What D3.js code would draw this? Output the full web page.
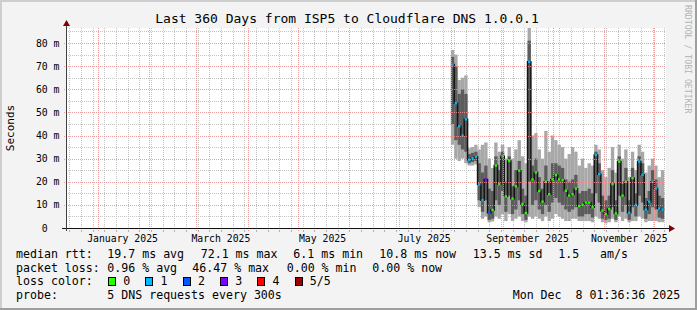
<!DOCTYPE html>
<html>
<head>
<meta charset="utf-8">
<script src="https://cdn.jsdelivr.net/npm/d3@7"></script>
<style>
  body { margin: 0; background: #f3f3f3; }
  svg { display: block; }
  text { font-family: "DejaVu Sans Mono", monospace; fill: #000; }
</style>
</head>
<body>
<div id="chart"></div>
<script>
// ---- data (2-day bins, values in ms) ----
const binDates = [
  "2025-08-01","2025-08-03","2025-08-05","2025-08-07","2025-08-09","2025-08-11","2025-08-13","2025-08-15",
  "2025-08-17","2025-08-19","2025-08-21","2025-08-23","2025-08-25","2025-08-27","2025-08-29","2025-08-31",
  "2025-09-02","2025-09-04","2025-09-06","2025-09-08","2025-09-10","2025-09-12","2025-09-14","2025-09-16",
  "2025-09-18","2025-09-20","2025-09-22","2025-09-24","2025-09-26","2025-09-28","2025-09-30","2025-10-02",
  "2025-10-04","2025-10-06","2025-10-08","2025-10-10","2025-10-12","2025-10-14","2025-10-16","2025-10-18",
  "2025-10-20","2025-10-22","2025-10-24","2025-10-26","2025-10-28","2025-10-30","2025-11-01","2025-11-03",
  "2025-11-05","2025-11-07","2025-11-09","2025-11-11","2025-11-13","2025-11-15","2025-11-17","2025-11-19",
  "2025-11-21","2025-11-23","2025-11-25","2025-11-27","2025-11-29","2025-12-01","2025-12-03","2025-12-05"
];
const rttMedian = [
  70.7,54,44,40,47, 29.5,30.2,30.8,18.9,12, 21,6.6,7.8,27,19, 31,13.7,29,12.7,18,
  24.8,10.4,6.5,71.9,21, 24,16,11.4,20,14.6, 21,22.9,21,20.7,16.1, 14,14.6,17,9.5,10,
  11,11,9,31.6,23.3, 7.5,6,8.2,19,6.3, 28.7,14,20,6.6,21.6, 10,28.7,23,8,11.4, 20,17.1,8.5,8
];
const rttHigh = [
  77,75,64,65,66, 34.5,35,36,34,36, 37,30,26,37,33, 36,30,35,30,34,
  38,31,28,95,40, 41,34,30,42,33, 40,38,36,35,30, 32,35,33,27,30,
  26,28,27,36,34, 25,22,26,35,24, 36,30,34,22,33, 25,36,33,24,27, 30,27,22,25
];
const rttUpper = [
  74,70,58,60,58, 32,32.5,33,28,24, 27,17,16,31,25, 33,20,31,18,25,
  29,17,14,81,27, 30,22,17,27,20, 28,28,27,26,21, 20,21,23,15,16,
  16,17,15,33,28, 14,12,14,25,12, 31,19,26,12,26, 15,31,28,13,16, 25,21,14,13
];
const rttLower = [
  45,38,36,34,33, 28,28.5,29,12,7, 12,3.5,4,12,10, 16,7,14,6,8,
  12,6,3.5,20,10, 12,8,6,10,7, 11,13,11,10,8, 7,8,9,5,5,
  6,6,4.5,15,11, 4,3.5,4,9,3.5, 14,7,10,3.5,9, 5,14,11,4,6, 9,8,4.5,4
];
const rttLow = [
  36,30,29,30,28, 27,27,27.5,9,4, 5,2.5,2.8,5,4, 6,3,6,3,4,
  5,3,2.5,5,4, 5,4,3,5,3, 4,6,5,4,3, 3,4,4,3,3,
  3,3,2.5,5,4, 2.5,2,2.5,4,2.5, 5,3,4,2.5,3, 3,5,4,2.5,3, 3,3,2.5,2.5
];
const lossCount = [
  1,1,1,1,1, 1,1,1,1,1, 3,2,0,0,0, 0,0,0,0,0, 0,0,0,1,0, 0,0,0,0,0,
  0,0,0,0,0, 0,0,0,0,0, 0,0,0,1,1, 0,0,0,0,0, 0,0,0,1,0, 1,1,1,1,1, 1,1,1,1
];

const yTicks = [0,10,20,30,40,50,60,70,80];
const yTickLabels = ["0","10 m","20 m","30 m","40 m","50 m","60 m","70 m","80 m"];
const xLabelMonths = ["2025-01-01","2025-03-01","2025-05-01","2025-07-01","2025-09-01","2025-11-01"];

const lossLevels = ["0","1","2","3","4","5/5"];
const lossColors = ["#26ff00","#00b8ff","#0059ff","#7e00ff","#ff0000","#a10000"];

const titleText = "Last 360 Days from ISP5 to Cloudflare DNS 1.0.0.1";
const rttStats = ["median rtt:","19.7 ms avg","72.1 ms max","6.1 ms min","10.8 ms now","13.5 ms sd","1.5","am/s"];
const lossStats = ["packet loss:","0.96 % avg","46.47 % max","0.00 % min","0.00 % now"];
const probeText = ["probe:","5 DNS requests every 300s"];
const stampText = "Mon Dec  8 01:36:36 2025";

// ---- layout ----
const W = 697, H = 310;
const margin = {left: 66, right: 31, top: 28, bottom: 82};
const plotW = W - margin.left - margin.right,   // 600
      plotH = H - margin.top - margin.bottom;   // 200

const parse = d3.utcParse("%Y-%m-%d");
const startT = new Date(Date.UTC(2024, 11, 13, 1, 36));
const endT = new Date(Date.UTC(2025, 11, 8, 1, 36));

const x = d3.scaleUtc().domain([startT, endT]).range([margin.left, margin.left + plotW]);
const y = d3.scaleLinear().domain([0, 86.5]).range([margin.top + plotH, margin.top]);

const svg = d3.select("#chart").append("svg")
  .attr("width", W)
  .attr("height", H);

// dotted grid patterns (1px on / 1px off)
const minorCol = "#c4c4c4", majorCol = "#ec9090";
const defs = svg.append("defs");
function dotPattern(id, col, horizontal) {
  const p = defs.append("pattern").attr("id", id)
    .attr("patternUnits", "userSpaceOnUse")
    .attr("width", horizontal ? 2 : 1).attr("height", horizontal ? 1 : 2);
  p.append("rect").attr("width", 1).attr("height", 1).attr("fill", col);
}
dotPattern("hmin", minorCol, true);
dotPattern("vmin", minorCol, false);
dotPattern("hmaj", majorCol, true);
dotPattern("vmaj", majorCol, false);

// background + 3d frame
svg.append("rect").attr("width", W).attr("height", H).attr("fill", "#f3f3f3");
svg.append("path").attr("d", `M0,0H${W}V2H2V${H}H0Z`).attr("fill", "#cecece");
svg.append("path").attr("d", `M${W},0V${H}H0V${H-2}H${W-2}V0Z`).attr("fill", "#9e9e9e");

// canvas
svg.append("rect")
  .attr("x", margin.left).attr("y", margin.top)
  .attr("width", plotW).attr("height", plotH)
  .attr("fill", "#fff");

svg.append("clipPath").attr("id", "plotclip")
  .append("rect")
  .attr("x", margin.left).attr("y", margin.top)
  .attr("width", plotW).attr("height", plotH);

const bins = binDates.map((d, i) => ({
  t0: parse(d),
  t1: d3.utcDay.offset(parse(d), 2),
  med: rttMedian[i], hi: rttHigh[i], up: rttUpper[i], lw: rttLower[i], lo: rttLow[i],
  loss: lossCount[i]
}));

// grid lines
const weeks = d3.utcSunday.range(startT, endT);
const months = d3.utcMonth.range(d3.utcMonth.ceil(startT), endT);
const yMinor = d3.range(5, 86, 10);
const grid = svg.append("g").attr("shape-rendering", "crispEdges");

function vLines(sel, data, pat, extra) {
  sel.selectAll(null).data(data).join("rect")
    .attr("x", d => Math.round(x(d)))
    .attr("y", margin.top)
    .attr("width", 1)
    .attr("height", plotH + extra)
    .attr("fill", `url(#${pat})`);
}
function hLines(sel, data, pat, extra) {
  sel.selectAll(null).data(data).join("rect")
    .attr("x", margin.left - extra)
    .attr("y", d => Math.round(y(d)))
    .attr("width", plotW + extra)
    .attr("height", 1)
    .attr("fill", `url(#${pat})`);
}
vLines(grid, weeks, "vmin", 0);
hLines(grid, yMinor, "hmin", 0);

const g = svg.append("g").attr("clip-path", "url(#plotclip)");

// outer smoke
g.selectAll("rect.smoke1").data(bins).join("rect")
  .attr("class", "smoke1")
  .attr("x", d => x(d.t0))
  .attr("width", d => x(d.t1) - x(d.t0))
  .attr("y", d => y(d.hi))
  .attr("height", d => y(d.lo) - y(d.hi))
  .attr("fill", "#a8a8a8");

// inner smoke
g.selectAll("rect.smoke2").data(bins).join("rect")
  .attr("class", "smoke2")
  .attr("x", d => x(d.t0))
  .attr("width", d => x(d.t1) - x(d.t0))
  .attr("y", d => y(d.up))
  .attr("height", d => y(d.lw) - y(d.up))
  .attr("fill", "#5c5c5c");

// median line
const medPts = bins.map(d => [x(d.t0), y(d.med)]);
const last = bins[bins.length - 1];
medPts.push([x(last.t1), y(last.med)]);
g.append("path")
  .attr("d", d3.line().curve(d3.curveStepAfter)(medPts))
  .attr("fill", "none")
  .attr("stroke", "#141414")
  .attr("stroke-width", 1.5);

// median marks coloured by loss
g.selectAll("rect.med").data(bins).join("rect")
  .attr("class", "med")
  .attr("x", d => (x(d.t0) + x(d.t1)) / 2 - 1.2)
  .attr("width", 2.4)
  .attr("y", d => y(d.med) - 1.2)
  .attr("height", 2.4)
  .attr("fill", d => lossColors[d.loss]);

// major grid on top, as rrdtool does
const grid2 = svg.append("g").attr("shape-rendering", "crispEdges").attr("opacity", 0.85);
vLines(grid2, months, "vmaj", 3);
hLines(grid2, yTicks.filter(v => v > 0), "hmaj", 3);

// axes
const axis = svg.append("g").attr("shape-rendering", "crispEdges");
const y0 = Math.round(y(0)) + 0.5;
axis.append("line")
  .attr("x1", margin.left - 4).attr("x2", margin.left + plotW + 4)
  .attr("y1", y0).attr("y2", y0)
  .attr("stroke", "#101010");
axis.append("line")
  .attr("x1", margin.left + 0.5).attr("x2", margin.left + 0.5)
  .attr("y1", y0 + 2).attr("y2", margin.top - 3)
  .attr("stroke", "#404040");

// little ticks under the x axis
axis.selectAll("line.xt").data(weeks).join("line")
  .attr("x1", d => Math.round(x(d)) + 0.5).attr("x2", d => Math.round(x(d)) + 0.5)
  .attr("y1", y0 + 1).attr("y2", y0 + 3)
  .attr("stroke", "#b0b0b0");

// arrows
svg.append("path")
  .attr("d", `M${margin.left - 3},${margin.top - 2}L${margin.left + 4},${margin.top - 2}L${margin.left + 0.5},${margin.top - 8}Z`)
  .attr("fill", "#7f0000");
svg.append("path")
  .attr("d", `M${margin.left + plotW + 3},${y0 - 3.5}L${margin.left + plotW + 3},${y0 + 3.5}L${margin.left + plotW + 9},${y0}Z`)
  .attr("fill", "#7f0000");

// y labels
const yFont = 9.8, yChar = yFont * 0.602;
svg.selectAll("text.ylab").data(yTicks).join("text")
  .attr("class", "ylab")
  .attr("x", (d, i) => 59.5 - (yTickLabels[i].includes(" ") ? 0 : 2 * yChar))
  .attr("y", d => y(d) + 3.5)
  .attr("text-anchor", "end")
  .style("font-size", yFont + "px")
  .text((d, i) => yTickLabels[i]);

// x labels: centred half a month after the month start
svg.selectAll("text.xlab").data(xLabelMonths.map(parse)).join("text")
  .attr("class", "xlab")
  .attr("x", d => x(d3.utcDay.offset(d, 15)))
  .attr("y", 241.5)
  .attr("text-anchor", "middle")
  .style("font-size", yFont + "px")
  .text(d => d3.utcFormat("%B %Y")(d));

// title
svg.append("text")
  .attr("x", 347).attr("y", 23)
  .attr("text-anchor", "middle")
  .style("font-size", "13px")
  .text(titleText);

// vertical label
svg.append("text")
  .attr("transform", `translate(14,${margin.top + plotH / 2}) rotate(-90)`)
  .attr("text-anchor", "middle")
  .style("font-size", "11px")
  .text("Seconds");

// watermark
svg.append("text")
  .attr("transform", "translate(685,5) rotate(90)")
  .style("font-size", "8.2px")
  .style("fill", "#b4b4b4")
  .text("RRDTOOL / TOBI OETIKER");

// legend
const lf = "11.6px";
const rttX = [16, 107.3, 200.7, 293.3, 379.3, 472.7, 558.3, 600];
svg.selectAll("text.l1").data(rttStats).join("text")
  .attr("class", "l1").attr("x", (d, i) => rttX[i]).attr("y", 258)
  .style("font-size", lf).text(d => d);

const lossX = [16, 107.3, 192.3, 286.7, 372.3];
svg.selectAll("text.l2").data(lossStats).join("text")
  .attr("class", "l2").attr("x", (d, i) => lossX[i]).attr("y", 271.7)
  .style("font-size", lf).text(d => d);

svg.append("text").attr("x", 16).attr("y", 285.4).style("font-size", lf).text("loss color:");
const sw = svg.selectAll("g.sw").data(lossLevels).join("g")
  .attr("class", "sw")
  .attr("transform", (d, i) => `translate(${108.5 + i * 37.3},277.5)`);
sw.append("rect")
  .attr("width", 7).attr("height", 8)
  .attr("fill", (d, i) => lossColors[i])
  .attr("stroke", "#000").attr("stroke-width", 1)
  .attr("shape-rendering", "crispEdges");
sw.append("text")
  .attr("x", 14.8).attr("y", 7.9)
  .style("font-size", lf)
  .text(d => d);

svg.append("text").attr("x", 16).attr("y", 299).style("font-size", lf).text(probeText[0]);
svg.append("text").attr("x", 107.3).attr("y", 299).style("font-size", lf).text(probeText[1]);
svg.append("text").attr("x", 512.7).attr("y", 299).style("font-size", lf)
  .style("white-space", "pre").text(stampText);
</script>
</body>
</html>
